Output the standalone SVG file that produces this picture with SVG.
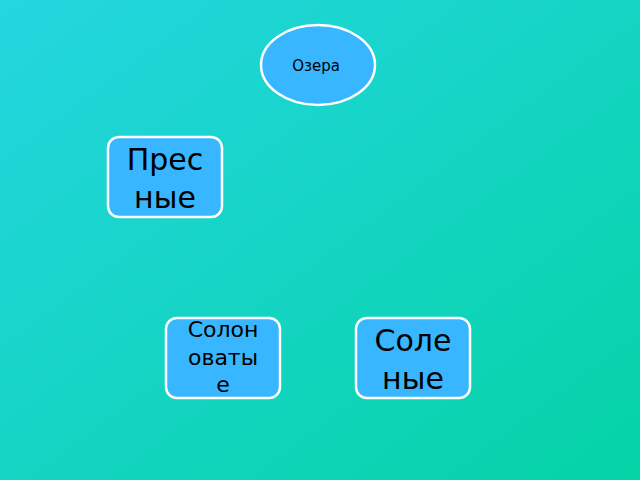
<svg xmlns="http://www.w3.org/2000/svg" width="640" height="480" viewBox="0 0 640 480">
<defs>
<linearGradient id="bg" x1="0" y1="0" x2="1" y2="1">
<stop offset="0" stop-color="#24D6E0"/>
<stop offset="1" stop-color="#05D3A6"/>
</linearGradient>
<style>
.n{fill:#38B6FF;stroke:#FFFFFF;stroke-width:2.5}
.t{font-family:"DejaVu Sans",sans-serif;fill:#000;text-anchor:middle}
</style>
</defs>
<rect width="640" height="480" fill="url(#bg)"/>
<g id="connectors"></g>
<g id="node-ozera">
<ellipse class="n" cx="318" cy="65" rx="57" ry="40"/>
<text class="t" x="316" y="71" font-size="15">Озера</text>
</g>
<g id="node-presnye">
<rect class="n" x="108" y="137" width="114" height="80" rx="11"/>
<text class="t" x="165" y="170" font-size="30">Прес</text>
<text class="t" x="165" y="208" font-size="30">ные</text>
</g>
<g id="node-solonovatye">
<rect class="n" x="166" y="318" width="114" height="80" rx="11"/>
<text class="t" x="223" y="337" font-size="22">Солон</text>
<text class="t" x="223" y="365" font-size="22">оваты</text>
<text class="t" x="223" y="392" font-size="22">е</text>
</g>
<g id="node-solenye">
<rect class="n" x="356" y="318" width="114" height="80" rx="11"/>
<text class="t" x="413" y="351" font-size="30">Соле</text>
<text class="t" x="413" y="389" font-size="30">ные</text>
</g>
</svg>
